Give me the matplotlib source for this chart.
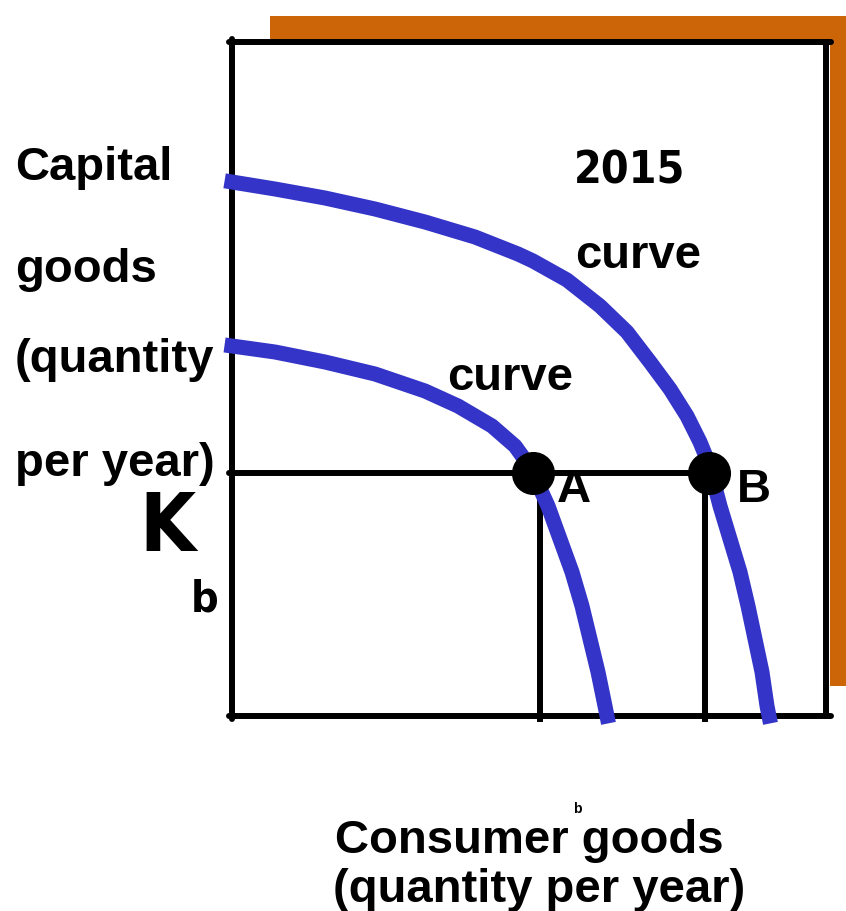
import matplotlib
matplotlib.use("Agg")
import matplotlib.pyplot as plt
from matplotlib import font_manager

# Production possibilities (units = box pixels from origin)
outer_x = [0, 43, 93, 143, 193, 243, 286, 301, 335, 368, 395, 418, 438, 455, 468, 477,
           488, 498, 508, 516, 523, 530, 535, 537]
outer_y = [534, 527, 518, 507, 494, 479, 462, 455, 436, 410, 384, 354, 327, 300, 274, 252,
           210, 177, 144, 110, 77, 44, 10, 0]
inner_x = [0, 43, 93, 143, 193, 226, 260, 283, 296, 306, 316, 328, 340, 350, 358, 366, 373, 375]
inner_y = [370, 364, 354, 342, 325, 310, 290, 270, 252, 232, 210, 177, 144, 110, 77, 44, 10, 0]

k_level = 243
point_names = ["A", "B"]
point_x = [301, 477]
drop_x = [308, 473]
box_w, box_h = 594, 674

y_label = ["Capital", "goods", "(quantity", "per year)"]
x_label = ["Consumer goods", "(quantity per year)"]

plt.rcParams['font.family'] = ['Liberation Sans', 'DejaVu Sans']


def find_narrow_bold():
    """ look for any condensed / narrow bold face that is installed """
    best = None
    for f in font_manager.fontManager.ttflist:
        nm = f.name.lower()
        narrowish = ("narrow" in nm or "condensed" in nm or
                     str(f.stretch) in ("condensed", "semi-condensed", "extra-condensed"))
        if not narrowish:
            continue
        w = f.weight if isinstance(f.weight, int) else 700 if "bold" in str(f.weight) else 400
        if w >= 600 and (best is None or "liberation" in nm or "arial" in nm):
            best = f
    return best


nf = find_narrow_bold()
if nf is not None:
    narrow_kw = dict(fontproperties=font_manager.FontProperties(fname=nf.fname))
    scale = 1.0
else:
    narrow_kw = dict(family="Liberation Sans", fontweight="bold")
    scale = 0.82

BLUE = "#3434c8"
ORANGE = "#cc6408"

fig = plt.figure(figsize=(8.46, 9.12), dpi=100)
ax = fig.add_axes([0, 0, 1, 1])
ax.set_xlim(-232, 614)
ax.set_ylim(-195, 717)
ax.axis("off")

# orange frame behind the box
ax.fill_between([38, 614], 677, 700, color=ORANGE, lw=0, zorder=1)
ax.fill_between([598, 614], 30, 700, color=ORANGE, lw=0, zorder=1)

# box
lw_k = 4.3
ax.plot([-3, box_w + 5], [box_h, box_h], color="black", lw=lw_k, solid_capstyle="round", zorder=2)
ax.plot([-3, box_w + 5], [0, 0], color="black", lw=lw_k, solid_capstyle="round", zorder=2)
ax.plot([0, 0], [-3, box_h + 3], color="black", lw=lw_k, solid_capstyle="round", zorder=2)
ax.plot([box_w, box_w], [0, box_h], color="black", lw=lw_k, solid_capstyle="round", zorder=2)

# guide lines
ax.plot([-3, point_x[1]], [k_level, k_level], color="black", lw=lw_k, solid_capstyle="round", zorder=2)
for dx in drop_x:
    ax.plot([dx, dx], [-3, k_level], color="black", lw=lw_k, zorder=2)

# curves
ax.plot(outer_x, outer_y, color=BLUE, lw=10.8, solid_joinstyle="round", zorder=3)
ax.plot(inner_x, inner_y, color=BLUE, lw=10.8, solid_joinstyle="round", zorder=3)

# points
ax.plot(point_x, [k_level] * 2, "o", color="black", ms=30, zorder=4)

bold = dict(fontsize=34, fontweight="bold", va="baseline", ha="left", zorder=5)
for txt, yb in zip(y_label, [537, 435, 345, 241]):
    ax.text(-217, yb, txt, **bold)
ax.text(325, 215, point_names[0], **bold)
ax.text(505, 215, point_names[1], **bold)
ax.text(343, 449, "curve", **bold)
ax.text(215, 327, "curve", **bold)

nt = dict(va="baseline", ha="left", zorder=5, **narrow_kw)
ax.text(342, 534, "2015", fontsize=32 * scale, **nt)
ax.text(-93, 166, "K", fontsize=58 * scale, **nt)
ax.text(-41, 106, "b", fontsize=31 * scale, **nt)

ax.text(103, -136, x_label[0], **bold)
ax.text(101, -185, x_label[1], **bold)
ax.text(341, -96, "b", fontsize=10, fontweight="bold", va="baseline")

fig.savefig("out.png", dpi=100)
